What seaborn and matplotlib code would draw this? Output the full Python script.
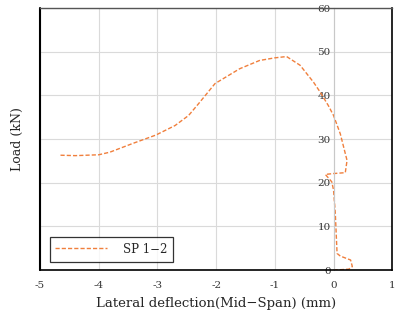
import pandas as pd
import matplotlib
matplotlib.use("Agg")
import matplotlib.pyplot as plt
import seaborn as sns

# lateral deflection (mm) and load (kN), in loading order
deflection = [0.0, 0.15, 0.26, 0.32, 0.29, 0.115, 0.06, 0.03, 0.0, -0.03, -0.14,
              0.0, 0.2, 0.23, 0.115, 0.0, -0.09, -0.23, -0.34, -0.57, -0.80,
              -1.0, -1.26, -1.6, -2.02, -2.3, -2.47, -2.7, -3.03, -3.42, -3.81,
              -4.0, -4.4, -4.66]
load = [0.0, 0.1, 0.2, 0.8, 2.3, 3.2, 3.8, 13.0, 18.3, 20.2, 21.9,
        22.1, 22.3, 25.1, 31.2, 35.4, 37.7, 40.8, 43.0, 46.9, 48.9,
        48.6, 48.0, 46.1, 42.7, 38.1, 35.4, 33.1, 30.9, 29.0, 27.0,
        26.4, 26.2, 26.3]
series_name = "SP 1−2"
x_ticks = [-5, -4, -3, -2, -1, 0, 1]
y_ticks = [0, 10, 20, 30, 40, 50, 60]

sns.set_style("white")
plt.rcParams["font.family"] = ["DejaVu Serif"]
plt.rcParams["axes.unicode_minus"] = False

df = pd.DataFrame({"x": deflection, "y": load, "s": series_name})

fig = plt.figure(figsize=(3.97, 3.23), dpi=100)
ax = fig.add_axes([0.101, 0.164, 0.887, 0.811])

sns.lineplot(data=df, x="x", y="y", hue="s", sort=False, estimator=None,
             palette=["#F07F3C"], linewidth=1.0, ax=ax)
ax.lines[0].set_dashes([3, 1.5])

ax.set_xlim(-5, 1)
ax.set_ylim(0, 60)
ax.set_xticks(x_ticks)
ax.set_yticks(y_ticks)
ax.grid(True, color="#dadada", linewidth=0.8)
ax.set_axisbelow(True)

# y axis crosses at x = 0, the frame stays a full box
ax.spines["left"].set_position(("data", 0))
ax.spines["left"].set_color("#c8c8c8")
ax.spines["left"].set_linewidth(0.8)
ax.axvline(-5, color="black", linewidth=1.5, clip_on=False)
for side in ["bottom", "right"]:
    ax.spines[side].set_color("black")
    ax.spines[side].set_linewidth(1.2)
ax.spines["top"].set_color("#555555")
ax.spines["top"].set_linewidth(1.0)

ax.tick_params(axis="both", length=0, labelsize=7.5, colors="#333333")
ax.tick_params(axis="x", pad=8)
ax.tick_params(axis="y", pad=2)

ax.set_xlabel("Lateral deflection(Mid−Span) (mm)", fontsize=9.5, labelpad=5)
ax.set_ylabel("Load (kN)", fontsize=9)
ax.yaxis.set_label_coords(-0.045, 0.5, transform=ax.transAxes)

handles, labels = ax.get_legend_handles_labels()
handles[0].set_dashes([3, 1.5])
leg = ax.legend(handles, labels, loc="lower left", bbox_to_anchor=(0.01, 0.01),
                fontsize=8.5, frameon=True, fancybox=False, handlelength=4.4,
                borderpad=0.5, handletextpad=1.3)
leg.get_frame().set_edgecolor("black")
leg.get_frame().set_linewidth(0.9)

fig.savefig("out.png", dpi=100)
